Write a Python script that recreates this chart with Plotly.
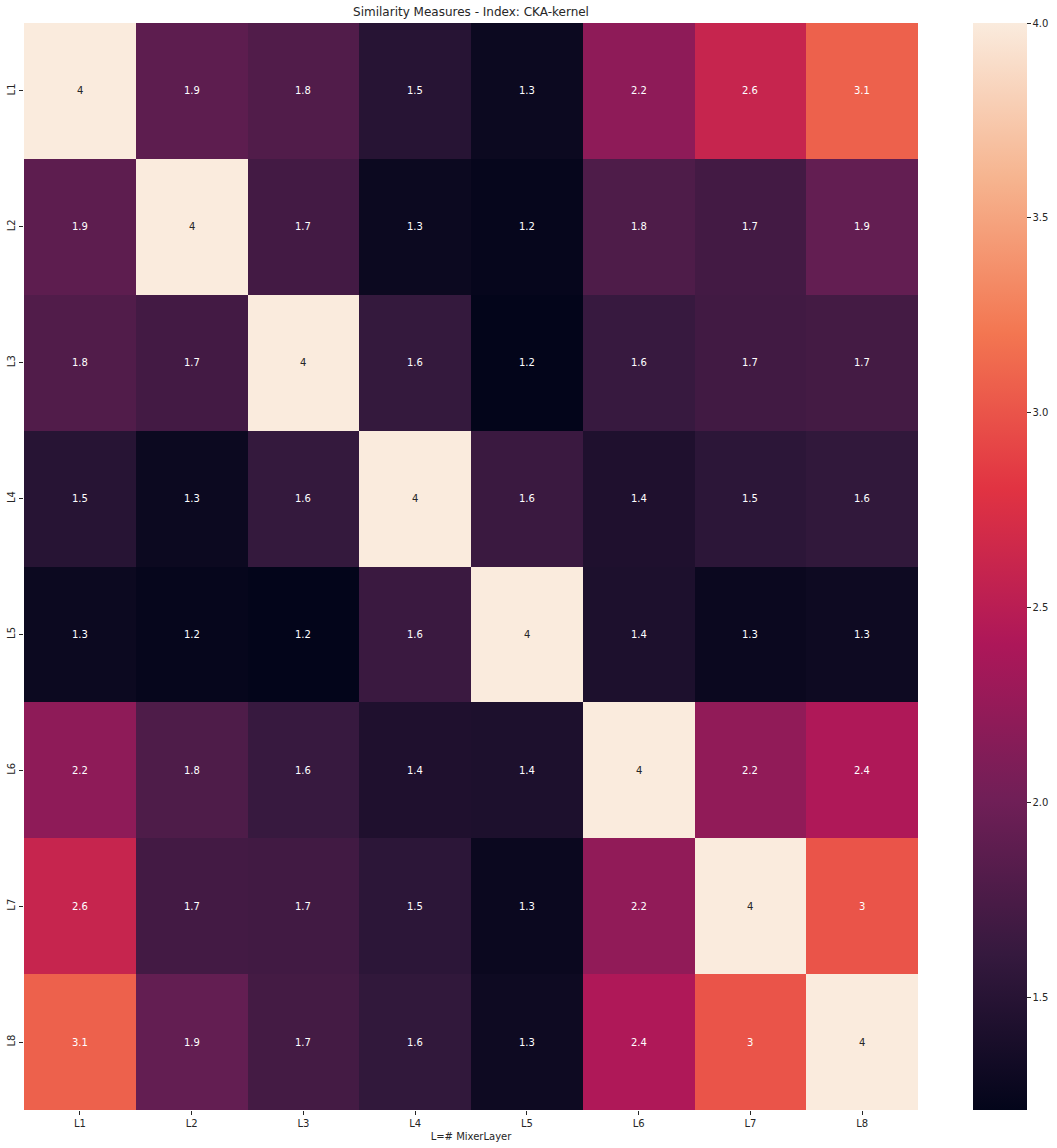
import plotly.graph_objects as go

labels = ["L1", "L2", "L3", "L4", "L5", "L6", "L7", "L8"]

row_L1 = [4.00, 1.88, 1.80, 1.50, 1.28, 2.20, 2.60, 3.08]
row_L2 = [1.88, 4.00, 1.70, 1.28, 1.23, 1.78, 1.70, 1.92]
row_L3 = [1.80, 1.70, 4.00, 1.60, 1.21, 1.62, 1.69, 1.71]
row_L4 = [1.50, 1.28, 1.60, 4.00, 1.64, 1.43, 1.54, 1.58]
row_L5 = [1.28, 1.23, 1.21, 1.64, 4.00, 1.42, 1.27, 1.30]
row_L6 = [2.20, 1.78, 1.62, 1.43, 1.42, 4.00, 2.22, 2.42]
row_L7 = [2.60, 1.70, 1.69, 1.54, 1.27, 2.22, 4.00, 3.00]
row_L8 = [3.08, 1.92, 1.71, 1.58, 1.30, 2.42, 3.00, 4.00]
z = [row_L1, row_L2, row_L3, row_L4, row_L5, row_L6, row_L7, row_L8]

colorbar_ticks = [1.5, 2.0, 2.5, 3.0, 3.5, 4.0]

rocket = [
    [0.0, "#03051a"],
    [1/7, "#35193e"],
    [2/7, "#701f57"],
    [3/7, "#ad1759"],
    [4/7, "#e13342"],
    [5/7, "#f37651"],
    [6/7, "#f6b48f"],
    [1.0, "#faebdd"],
]

FONT = "DejaVu Sans"

fig = go.Figure(
    go.Heatmap(
        z=z, x=labels, y=labels,
        colorscale=rocket,
        xgap=0, ygap=0,
        colorbar=dict(
            x=1.0615, xanchor="left", xpad=0, ypad=0,
            y=0.5, yanchor="middle", len=1, lenmode="fraction",
            thickness=54, outlinewidth=0,
            tickvals=colorbar_ticks, tickformat=".1f",
            ticks="outside", ticklen=4, tickwidth=1, tickcolor="#262626",
            tickfont=dict(family=FONT, size=10, color="#262626"),
        ),
        hoverinfo="skip",
    )
)

annotations = []
for i, ylab in enumerate(labels):
    for j, xlab in enumerate(labels):
        v = z[i][j]
        annotations.append(dict(
            x=xlab, y=ylab, xref="x", yref="y",
            text=f"{v:.2g}", showarrow=False,
            font=dict(family=FONT, size=10, color="#262626" if v >= 3.5 else "white"),
        ))

fig.update_layout(
    width=1057, height=1148,
    margin=dict(l=24, r=139, t=23, b=38, autoexpand=False),
    paper_bgcolor="white", plot_bgcolor="white",
    annotations=annotations,
    title=dict(text="Similarity Measures - Index: CKA-kernel", x=(24 + 447) / 1057, xanchor="center",
               y=1 - 12 / 1148, yanchor="middle",
               font=dict(family=FONT, size=12, color="#262626")),
    xaxis=dict(
        showgrid=False, zeroline=False, showline=False,
        ticks="outside", ticklen=4, tickcolor="#262626",
        tickfont=dict(family=FONT, size=10, color="#262626"),
        title=dict(text="L=# MixerLayer", font=dict(family=FONT, size=10, color="#262626"), standoff=4),
    ),
    yaxis=dict(
        autorange="reversed",
        showgrid=False, zeroline=False, showline=False,
        ticks="outside", ticklen=4, tickcolor="#262626", tickangle=-90,
        tickfont=dict(family=FONT, size=10, color="#262626"),
    ),
)

fig.write_html(
    "out.html",
    config={"displayModeBar": False},
    post_script="document.body.style.margin='0';document.body.style.overflow='hidden';",
)
